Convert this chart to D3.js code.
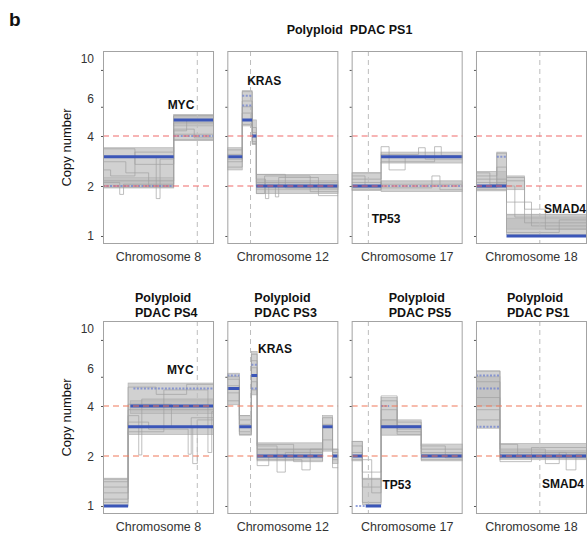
<!DOCTYPE html>
<html>
<head>
<meta charset="utf-8">
<script src="https://cdn.jsdelivr.net/npm/d3@7"></script>
<style>
body { margin: 0; background: #fff; }
svg { font-family: "Liberation Sans", Arial, sans-serif; }
</style>
</head>
<body>
<svg id="chart" width="588" height="538"></svg>
<script>
// chromosome panels, gene markers, y ticks
var chromosomes = ["Chromosome 8", "Chromosome 12", "Chromosome 17", "Chromosome 18"];
var chromLength = [146, 134, 83, 80];          // Mb
var genes = ["MYC", "KRAS", "TP53", "SMAD4"];
var genePos = [124, 28, 12.5, 46];             // Mb
var yTicks = [1, 2, 4, 6, 10];
var refLines = [2, 4];
var topTitle = "Polyploid  PDAC PS1";
var bottomSamples = ["PS4", "PS3", "PS5", "PS1"];

// top row: consensus segments [start, end, copy number]
var topBlue = [
  [[0, 93, 3.0], [93, 146, 5.0]],
  [[0, 18, 3.0], [18, 30, 5.0], [30, 35, 4.0], [35, 134, 2.0]],
  [[0, 22, 2.0], [22, 83, 3.0]],
  [[0, 22, 2.0], [22, 80, 1.0]]
];
var topFaint = [
  [[0, 93, 2.0], [93, 146, 4.0]],
  [[18, 30, 7.0], [18, 30, 6.1]],
  [[22, 83, 2.0]],
  [[15, 22, 3.0]]
];
// dense clouds of single-cell profiles [start, end, low, high]
var topBands = [
  [[0, 93, 1.95, 2.25], [0, 93, 1.95, 3.4], [93, 146, 3.75, 5.4], [93, 146, 4.6, 5.3]],
  [[0, 18, 2.5, 3.4], [18, 30, 4.6, 7.5], [30, 35, 3.55, 5.0], [35, 134, 1.8, 2.35], [35, 134, 1.9, 2.15]],
  [[0, 22, 1.88, 2.4], [22, 83, 2.75, 3.2], [22, 83, 1.85, 2.12]],
  [[0, 22, 1.87, 2.45], [15, 22, 2.0, 3.2], [22, 35, 1.9, 2.3], [22, 80, 1.02, 1.34], [22, 80, 1.1, 1.28]]
];
// individual step profiles
var topTraces = [
  [
    [[0, 22, 2.1], [22, 27, 1.78], [27, 93, 2.05], [93, 146, 4.1]],
    [[0, 70, 3.0], [70, 75, 1.68], [75, 93, 2.9], [93, 146, 5.3]],
    [[0, 42, 3.35], [42, 93, 2.7], [93, 120, 4.4], [120, 146, 3.9]],
    [[0, 10, 2.5], [10, 42, 2.3], [42, 93, 3.2], [93, 146, 4.8]],
    [[0, 93, 2.15], [93, 110, 4.3], [110, 146, 5.0]],
    [[0, 30, 2.8], [30, 60, 2.4], [60, 93, 2.0], [93, 146, 3.8]]
  ],
  [
    [[0, 18, 2.8], [18, 30, 6.5], [30, 35, 3.7], [35, 46, 2.2], [46, 50, 1.68], [50, 134, 2.0]],
    [[0, 18, 3.3], [18, 30, 7.4], [30, 35, 4.5], [35, 134, 2.1]],
    [[0, 18, 2.6], [18, 30, 5.5], [30, 35, 4.0], [35, 45, 1.8], [45, 100, 2.3], [100, 134, 1.85]],
    [[0, 18, 3.1], [18, 30, 4.7], [30, 35, 3.6], [35, 58, 2.0], [58, 62, 1.72], [62, 110, 2.25], [110, 134, 1.75]],
    [[0, 18, 2.9], [18, 30, 6.0], [30, 35, 4.2], [35, 70, 2.35], [70, 134, 1.95]]
  ],
  [
    [[0, 22, 2.2], [22, 50, 3.1], [50, 55, 3.4], [55, 83, 2.9]],
    [[0, 22, 1.9], [22, 83, 2.05]],
    [[0, 10, 2.3], [10, 22, 2.0], [22, 28, 3.45], [28, 40, 2.5], [40, 83, 3.0]],
    [[0, 22, 2.1], [22, 60, 1.95], [60, 66, 2.3], [66, 83, 1.9]],
    [[0, 22, 2.4], [22, 62, 2.8], [62, 67, 3.45], [67, 83, 3.05]],
    [[0, 22, 1.95], [22, 83, 2.15]]
  ],
  [
    [[0, 15, 2.3], [15, 22, 3.15], [22, 35, 2.25], [35, 80, 1.2]],
    [[0, 22, 1.9], [22, 40, 1.6], [40, 80, 1.15]],
    [[0, 22, 2.2], [22, 28, 2.0], [28, 80, 1.3]],
    [[0, 10, 2.4], [10, 22, 2.05], [22, 60, 1.05], [60, 80, 1.25]],
    [[0, 22, 2.1], [22, 35, 2.15], [35, 50, 1.45], [50, 80, 1.1]],
    [[0, 15, 1.95], [15, 22, 2.6], [22, 80, 1.35]]
  ]
];
var topLabelAt = [[85, 6.2], [24, 8.6], [15, 1.27], [49, 1.46]];

// bottom row
var bottomBlue = [
  [[0, 33, 1.0], [36, 146, 4.0], [33, 146, 3.0]],
  [[0, 14.5, 5.1], [14.5, 29, 3.0], [29, 36, 6.1], [36, 115, 2.0], [115, 127, 3.0], [127, 134, 2.0]],
  [[0, 8, 2.0], [10.5, 22, 1.0], [22, 52, 3.0], [52, 83, 2.0]],
  [[17.3, 80, 2.0]]
];
var bottomFaint = [
  [[40, 146, 5.1]],
  [[0, 14.5, 6.1], [29, 36, 7.1], [29, 36, 5.1]],
  [[3, 10.5, 1.0], [22, 28, 4.0]],
  [[0, 17.3, 6.1], [0, 17.3, 5.1], [0, 17.3, 3.0]]
];
var bottomBands = [
  [[0, 33, 1.0, 1.47], [33, 146, 2.7, 5.5], [36, 146, 3.6, 4.3]],
  [[0, 14.5, 4.07, 6.3], [14.5, 29, 2.67, 3.5], [29, 36, 4.67, 8.5], [36, 115, 1.87, 2.4], [36, 115, 1.95, 2.2], [115, 127, 2.14, 3.5], [127, 134, 1.8, 2.2]],
  [[0, 8, 1.87, 2.45], [8, 22, 1.02, 1.47], [22, 34, 3.0, 4.5], [22, 52, 2.67, 3.3], [52, 83, 1.87, 2.36]],
  [[0, 17.3, 2.94, 6.5], [0, 17.3, 4.0, 6.0], [17.3, 80, 1.9, 2.38], [17.3, 80, 1.95, 2.15]]
];
var bottomTraces = [
  [
    [[0, 33, 1.1], [33, 47, 3.5], [47, 51, 2.03], [51, 146, 4.4]],
    [[0, 33, 1.3], [33, 70, 5.2], [70, 110, 4.7], [110, 146, 5.4]],
    [[0, 33, 1.05], [33, 60, 3.2], [60, 112, 2.9], [112, 116, 2.05], [116, 146, 3.4]],
    [[0, 33, 1.4], [33, 146, 3.8]],
    [[0, 33, 1.2], [33, 90, 4.1], [90, 118, 3.0], [118, 124, 1.8], [124, 146, 3.3]],
    [[0, 33, 1.45], [33, 80, 2.8], [80, 138, 5.0], [138, 143, 2.1], [143, 146, 3.7]]
  ],
  [
    [[0, 14.5, 5.8], [14.5, 29, 3.3], [29, 36, 8.2], [36, 60, 2.3], [60, 70, 1.6], [70, 115, 2.1], [115, 127, 3.4], [127, 134, 1.7]],
    [[0, 14.5, 4.3], [14.5, 29, 2.8], [29, 36, 5.0], [36, 90, 1.9], [90, 100, 1.65], [100, 115, 2.2], [115, 127, 2.5], [127, 134, 2.1]],
    [[0, 14.5, 5.3], [14.5, 29, 3.1], [29, 36, 6.8], [36, 115, 2.2], [115, 127, 3.1], [127, 134, 1.9]],
    [[0, 14.5, 6.0], [14.5, 29, 2.7], [29, 36, 5.6], [36, 50, 1.75], [50, 115, 2.0], [115, 127, 2.2], [127, 134, 2.0]],
    [[0, 14.5, 4.8], [14.5, 29, 3.5], [29, 36, 7.5], [36, 80, 2.35], [80, 115, 1.85], [115, 127, 3.0], [127, 134, 2.2]]
  ],
  [
    [[0, 8, 2.3], [8, 22, 1.3], [22, 34, 4.3], [34, 52, 2.9], [52, 83, 2.2]],
    [[0, 8, 1.9], [8, 22, 1.05], [22, 34, 3.3], [34, 52, 2.7], [52, 83, 1.9]],
    [[0, 8, 2.1], [8, 15, 1.9], [15, 22, 1.2], [22, 34, 3.8], [34, 52, 3.2], [52, 83, 2.05]],
    [[0, 8, 2.45], [8, 22, 1.45], [22, 34, 3.0], [34, 52, 3.05], [52, 70, 2.3], [70, 83, 1.95]],
    [[0, 8, 2.0], [8, 22, 1.6], [22, 34, 4.6], [34, 52, 2.8], [52, 83, 2.1]]
  ],
  [
    [[0, 17.3, 6.5], [17.3, 50, 2.2], [50, 60, 1.8], [60, 80, 2.1]],
    [[0, 17.3, 3.3], [17.3, 80, 1.95]],
    [[0, 17.3, 4.5], [17.3, 30, 2.35], [30, 80, 2.0]],
    [[0, 17.3, 5.6], [17.3, 65, 2.1], [65, 72, 1.65], [72, 80, 2.05]],
    [[0, 17.3, 3.8], [17.3, 40, 1.85], [40, 80, 2.25]]
  ]
];
var bottomLabelAt = [[84, 6.6], [37, 8.9], [23, 1.34], [47.6, 1.37]];

var svg = d3.select("#chart");

var panelX = d3.scaleBand()
    .domain(d3.range(chromosomes.length))
    .range([103, 587])
    .paddingInner(0.107);

var rows = [
  { top: 51, bottom: 244, blue: topBlue, faint: topFaint, bands: topBands, traces: topTraces, labelAt: topLabelAt, red: "#f06b6b" },
  { top: 321, bottom: 514, blue: bottomBlue, faint: bottomFaint, bands: bottomBands, traces: bottomTraces, labelAt: bottomLabelAt, red: "#f0785a" }
];

// tick labels 6 and 10 sit a bit above their ticks in the original figure
var labelNudge = { 6: -8, 10: -11 };

rows.forEach(function(row, r) {
  var y = d3.scaleLog().base(2)
      .domain([0.895, 13])
      .range([row.bottom, row.top]);

  chromosomes.forEach(function(chrom, i) {
    var x = d3.scaleLinear()
        .domain([0, chromLength[i]])
        .range([panelX(i), panelX(i) + panelX.bandwidth()]);

    var g = svg.append("g");
    var clipId = "clip-" + r + "-" + i;
    g.append("clipPath").attr("id", clipId)
     .append("rect")
     .attr("x", x.range()[0]).attr("y", row.top)
     .attr("width", panelX.bandwidth()).attr("height", row.bottom - row.top);

    var inner = g.append("g").attr("clip-path", "url(#" + clipId + ")");

    inner.selectAll(".band")
       .data(row.bands[i])
       .enter()
       .append("rect")
       .attr("class", "band")
       .attr("x", function(d) { return x(d[0]) })
       .attr("y", function(d) { return y(d[3]) })
       .attr("width", function(d) { return x(d[1]) - x(d[0]) })
       .attr("height", function(d) { return y(d[2]) - y(d[3]) })
       .attr("fill", "#bdbdbd")
       .attr("fill-opacity", 0.7)
       .attr("stroke", "#b3b3b3")
       .attr("stroke-width", 0.7);

    var line = d3.line()
        .x(function(p) { return x(p[0]) })
        .y(function(p) { return y(p[1]) });

    inner.selectAll(".trace")
       .data(row.traces[i])
       .enter()
       .append("path")
       .attr("class", "trace")
       .attr("d", function(segs) {
         var pts = [];
         segs.forEach(function(s) { pts.push([s[0], s[2]], [s[1], s[2]]); });
         return line(pts);
       })
       .attr("fill", "none")
       .attr("stroke", "#a0a0a0")
       .attr("stroke-width", 0.8)
       .attr("stroke-opacity", 0.85);

    // gene position
    inner.append("line")
       .attr("x1", x(genePos[i])).attr("x2", x(genePos[i]))
       .attr("y1", row.top).attr("y2", row.bottom)
       .attr("stroke", "#bdbdbd")
       .attr("stroke-width", 1)
       .attr("stroke-dasharray", "5,4");

    inner.selectAll(".faint")
       .data(row.faint[i])
       .enter()
       .append("line")
       .attr("class", "faint")
       .attr("x1", function(d) { return x(d[0]) })
       .attr("x2", function(d) { return x(d[1]) })
       .attr("y1", function(d) { return y(d[2]) })
       .attr("y2", function(d) { return y(d[2]) })
       .attr("stroke", "#6f82cf")
       .attr("stroke-width", 2)
       .attr("stroke-opacity", 0.75)
       .attr("stroke-dasharray", "2,1.5");

    inner.selectAll(".blue")
       .data(row.blue[i])
       .enter()
       .append("line")
       .attr("class", "blue")
       .attr("x1", function(d) { return x(d[0]) })
       .attr("x2", function(d) { return x(d[1]) })
       .attr("y1", function(d) { return y(d[2]) })
       .attr("y2", function(d) { return y(d[2]) })
       .attr("stroke", "#3b56b8")
       .attr("stroke-width", 3);

    inner.selectAll(".ref")
       .data(refLines)
       .enter()
       .append("line")
       .attr("class", "ref")
       .attr("x1", x.range()[0]).attr("x2", x.range()[1])
       .attr("y1", function(d) { return y(d) })
       .attr("y2", function(d) { return y(d) })
       .attr("stroke", row.red)
       .attr("stroke-width", 1.2)
       .attr("stroke-dasharray", "6,4");

    g.append("rect")
     .attr("x", x.range()[0] + 0.5).attr("y", row.top + 0.5)
     .attr("width", panelX.bandwidth() - 1).attr("height", row.bottom - row.top - 1)
     .attr("fill", "none")
     .attr("stroke", "#a3a3a3")
     .attr("stroke-width", 1);

    var axis = d3.axisLeft(y)
        .tickValues(yTicks)
        .tickSize(2)
        .tickPadding(7)
        .tickFormat(i === 0 ? d3.format("d") : function() { return "" });

    var ax = g.append("g")
        .attr("transform", "translate(" + x.range()[0] + ",0)")
        .call(axis);
    ax.select(".domain").remove();
    ax.selectAll(".tick line").attr("stroke", "#555");
    ax.selectAll(".tick text")
      .attr("fill", "#333")
      .style("font-size", "12px")
      .attr("dy", function(d) { return (labelNudge[d] || 0) + 4 + "px" });

    g.append("text")
     .attr("x", x(row.labelAt[i][0]))
     .attr("y", y(row.labelAt[i][1]))
     .attr("dy", "0.36em")
     .attr("font-weight", "bold")
     .attr("font-size", "12px")
     .attr("fill", "#111")
     .text(genes[i]);

    g.append("text")
     .attr("x", (x.range()[0] + x.range()[1]) / 2)
     .attr("y", row.bottom + 16.5)
     .attr("text-anchor", "middle")
     .attr("font-size", "12.5px")
     .attr("fill", "#333")
     .text(chrom);
  });

  svg.append("text")
     .attr("transform", "translate(71," + (row.top + row.bottom) / 2 + ") rotate(-90)")
     .attr("text-anchor", "middle")
     .attr("font-size", "13px")
     .attr("fill", "#111")
     .text("Copy number");
});

svg.append("text")
   .attr("x", 9).attr("y", 26)
   .attr("font-weight", "bold")
   .attr("font-size", "19px")
   .attr("fill", "#111")
   .text("b");

svg.append("text")
   .attr("x", 349.5).attr("y", 34)
   .attr("text-anchor", "middle")
   .attr("font-weight", "bold")
   .attr("font-size", "12.5px")
   .attr("fill", "#111")
   .style("white-space", "pre")
   .text(topTitle);

var titleInset = [32, 27, 37, 31];
bottomSamples.forEach(function(s, i) {
  var t = svg.append("text")
     .attr("font-weight", "bold")
     .attr("font-size", "12.5px")
     .attr("fill", "#111");
  t.append("tspan").attr("x", panelX(i) + titleInset[i]).attr("y", 302).text("Polyploid");
  t.append("tspan").attr("x", panelX(i) + titleInset[i]).attr("y", 317).text("PDAC " + s);
});
</script>
</body>
</html>
